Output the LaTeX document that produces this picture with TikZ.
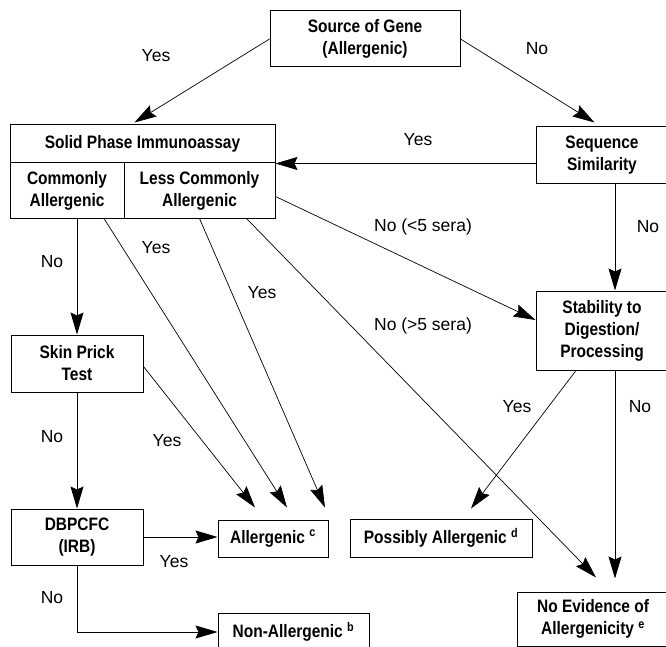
\documentclass[tikz,border=0pt]{standalone}
\usepackage{fontspec}
\setmainfont{Liberation Sans}
\newfontfamily\boxfont{Liberation Sans}[FakeStretch=0.86]
\usetikzlibrary{arrows.meta,calc}
\begin{document}
\begin{tikzpicture}[x=1pt,y=-1pt,
  box/.style={draw,line width=1pt,align=center,inner sep=0pt,font=\boxfont\bfseries\fontsize{18}{22}\selectfont},
  lbl/.style={font=\fontsize{17.5}{20}\selectfont,inner sep=0pt},
  arr/.style={line width=0.7pt,-{Stealth[length=22pt,width=13pt,inset=3pt]}}]
\useasboundingbox (0,0) rectangle (666,647);

% boxes
\node[box,minimum width=190pt,minimum height=56pt] (src) at (365,39) {Source of Gene\\(Allergenic)};
\node[box,minimum width=265pt,minimum height=38pt] (spt) at (142.5,144) {Solid Phase Immunoassay};
\node[box,minimum width=114pt,minimum height=55pt] (spa) at (67,190.5) {Commonly\\Allergenic};
\node[box,minimum width=151pt,minimum height=55pt] (spb) at (199.5,190.5) {Less Commonly\\Allergenic};
\node[box,minimum width=132pt,minimum height=57pt] (seq) at (602,155.5) {Sequence\\Similarity};
\node[box,minimum width=132pt,minimum height=79pt] (stab) at (602,330.5) {Stability to\\Digestion/\\Processing};
\node[box,minimum width=132pt,minimum height=57pt] (skin) at (77,363.5) {Skin Prick\\Test};
\node[box,minimum width=132pt,minimum height=56pt] (dbp) at (77,537) {DBPCFC\\(IRB)};
\node[box,minimum width=110pt,minimum height=37pt] (allg) at (273,538.5) {Allergenic \textsuperscript{c}};
\node[box,minimum width=182pt,minimum height=38pt] (poss) at (441,538) {Possibly Allergenic \textsuperscript{d}};
\node[box,minimum width=151pt,minimum height=38pt] (nonal) at (293.5,632) {Non-Allergenic \textsuperscript{b}};
\node[box,minimum width=152pt,minimum height=54pt] (noev) at (593,619) {No Evidence of\\Allergenicity \textsuperscript{e}};

% connectors
\draw[arr] (src.west) -- ($(spt.north west)+(125,-2)$);
\draw[arr] (src.east) -- ($(seq.north west)+(59,-4)$);
\draw[arr] (seq.west |- spt.south east) -- (spt.south east);
\draw[arr] ($(spb.north east)+(0,34)$) -- ($(stab.west)+(0,-10.5)$);
\draw[arr] ($(spb.south west)+(123,0)$) -- ($(noev.north)+(3,-14)$);
\draw[arr] (skin.north |- spa.south) -- (skin.north);
\draw[arr] ($(spa.south)+(37,0)$) -- ($(allg.north)+(14,-12)$);
\draw[arr] (spb.south) -- ($(allg.north)+(52,-12)$);
\draw[arr] ($(skin.east)+(0,3)$) -- ($(allg.north)+(-18,-12)$);
\draw[arr] (skin.south) -- (dbp.north);
\draw[arr] (dbp.east) -- (allg.west |- dbp.east);
\draw[arr] (dbp.south) |- (nonal.west);
\draw[arr] ($(seq.south)+(13,0)$) -- ($(stab.north)+(13,0)$);
\draw[arr] ($(stab.south)+(-26,0)$) -- ($(poss.north)+(30,-10)$);
\draw[arr] ($(stab.south)+(13,0)$) -- ($(noev.north)+(22,-13)$);

% labels
\node[lbl] (l1) at (156,56) {Yes};
\node[lbl] (l2) at (537,49) {No};
\node[lbl] (l3) at (418,140) {Yes};
\node[lbl] (l4) at (648,227) {No};
\node[lbl] (l5) at (423,227) {No (<5 sera)};
\node[lbl] (l6) at (423,326) {No (>5 sera)};
\node[lbl] (l7) at (52,262) {No};
\node[lbl] (l8) at (156,248) {Yes};
\node[lbl] (l9) at (262,293) {Yes};
\node[lbl] (l10) at (167,441) {Yes};
\node[lbl] (l11) at (52,437) {No};
\node[lbl] (l12) at (174,562) {Yes};
\node[lbl] (l13) at (52,598) {No};
\node[lbl] (l14) at (517,407) {Yes};
\node[lbl] (l15) at (640,407) {No};
\end{tikzpicture}
\end{document}
